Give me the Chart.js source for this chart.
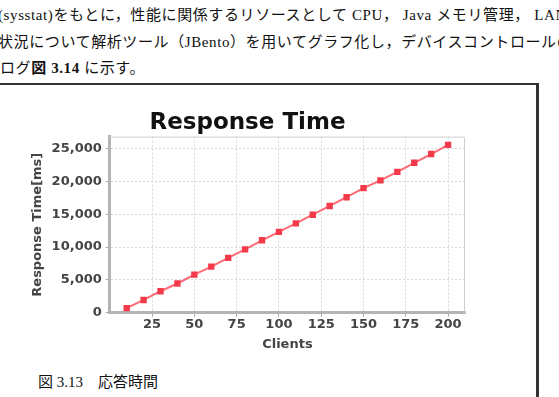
<!DOCTYPE html>
<html>
<head>
<meta charset="utf-8">
<script src="https://cdn.jsdelivr.net/npm/chart.js@4"></script>
<style>
  html, body { margin: 0; padding: 0; background: #fff; overflow: hidden; }
  #page { position: relative; width: 559px; height: 397px; overflow: hidden;
          font-family: "Liberation Serif", "Noto Sans CJK JP", serif; color: #111; }
  .line { position: absolute; left: -2px; white-space: nowrap; font-size: 15px; line-height: 18px; letter-spacing: 0.6px; }
  .rule { position: absolute; background: #333; z-index: 5; }
  #wrap { position: absolute; left: 10px; top: 93px; width: 462px; height: 261px; }
  #caption { position: absolute; left: 38px; top: 373px; font-size: 15px; line-height: 18px; white-space: nowrap; }
</style>
</head>
<body>
<div id="page">
  <div class="line" style="top:6px">(sysstat)をもとに，性能に関係するリソースとして CPU， Java メモリ管理， LAN</div>
  <div class="line" style="top:33px">状況について解析ツール（JBento）を用いてグラフ化し，デバイスコントロールの</div>
  <div class="line" style="top:59px;left:0">ログ<b>図 3.14</b> に示す。</div>
  <div class="rule" style="left:0; top:83px; width:539px; height:2px"></div>
  <div class="rule" style="left:536px; top:83px; width:3px; height:314px"></div>
  <div id="wrap"><canvas id="responsechart"></canvas></div>
  <div id="caption">図 3.13　応答時間</div>
</div>
<script>
  // Setup Block
  const clients = [10, 20, 30, 40, 50, 60, 70, 80, 90, 100, 110, 120, 130, 140, 150, 160, 170, 180, 190, 200];
  const responseTime = [720, 1950, 3280, 4460, 5800, 7030, 8350, 9640, 11030, 12300, 13600, 14920, 16250, 17580, 18970, 20150, 21430, 22820, 24150, 25540];
  const xTicks = [25, 50, 75, 100, 125, 150, 175, 200];
  const yTicks = [0, 5000, 10000, 15000, 20000, 25000];

  const data_response = {
    datasets: [{
      label: 'Response Time',
      data: clients.map((c, i) => ({ x: c, y: responseTime[i] })),
      borderColor: '#ff6a74',
      backgroundColor: '#f23a4a',
      borderWidth: 2,
      pointStyle: 'rect',
      pointRadius: 4.5,
      pointBorderWidth: 0,
      tension: 0
    }]
  };

  // plot frame (top / right light border)
  const frame = {
    id: 'frame',
    afterDraw(chart) {
      const a = chart.chartArea, ctx = chart.ctx;
      ctx.save();
      ctx.strokeStyle = '#cfcfcf';
      ctx.lineWidth = 1;
      ctx.beginPath();
      ctx.moveTo(a.left, a.top + 0.5);
      ctx.lineTo(a.right - 0.5, a.top + 0.5);
      ctx.lineTo(a.right - 0.5, a.bottom);
      ctx.stroke();
      ctx.restore();
    }
  };

  const tickFont = { family: 'DejaVu Sans', size: 13, weight: 'bold' };
  const titleFont = { family: 'DejaVu Sans', size: 13, weight: 'bold' };

  // Config Block
  const config_response = {
    type: 'line',
    data: data_response,
    plugins: [frame],
    options: {
      responsive: true,
      maintainAspectRatio: false,
      animation: false,
      layout: { padding: { left: 20, right: 7, top: 0, bottom: 2 } },
      plugins: {
        legend: { display: false },
        tooltip: { enabled: false },
        title: {
          display: true,
          text: 'Response Time',
          color: '#111',
          font: { family: 'DejaVu Sans', size: 23, weight: 'bold' },
          padding: { top: 16, bottom: 0 }
        }
      },
      scales: {
        x: {
          type: 'linear',
          min: 0,
          max: 210,
          afterBuildTicks: s => { s.ticks = xTicks.map(v => ({ value: v })); },
          ticks: { color: '#444', font: tickFont, padding: 0, maxRotation: 0 },
          grid: { color: '#d8d8d8', lineWidth: 1, tickLength: 4, tickColor: '#aaa', tickBorderDash: [] },
          border: { color: '#b4b4b4', width: 3, dash: [2, 2] },
          title: { display: true, text: 'Clients', color: '#444', font: titleFont, padding: { top: 4, bottom: 0 } }
        },
        y: {
          min: 0,
          max: 26800,
          afterBuildTicks: s => { s.ticks = yTicks.map(v => ({ value: v })); },
          ticks: { color: '#444', font: tickFont, padding: 4, callback: v => v.toLocaleString('en-US') },
          grid: { color: '#d8d8d8', lineWidth: 1, tickLength: 4, tickColor: '#aaa', tickBorderDash: [] },
          border: { color: '#b4b4b4', width: 3, dash: [2, 2] },
          title: { display: true, text: 'Response Time[ms]', color: '#444', font: titleFont, padding: { top: 0, bottom: 2 } }
        }
      }
    }
  };

  // Render Block
  const responsechart = new Chart(
    document.getElementById('responsechart'),
    config_response
  );
</script>
</body>
</html>
